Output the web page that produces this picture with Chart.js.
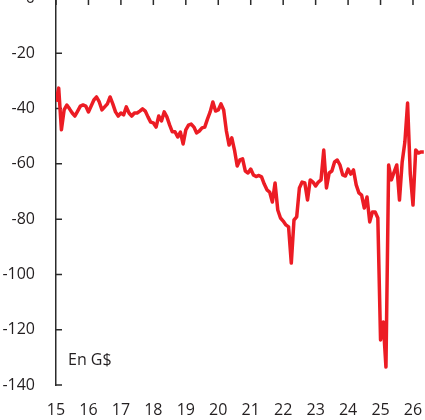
<!DOCTYPE html>
<html>
<head>
<meta charset="utf-8">
<script src="https://cdn.jsdelivr.net/npm/chart.js@4.4.1/dist/chart.umd.min.js"></script>
<style>
  html, body { margin: 0; padding: 0; background: #fff; overflow: hidden; }
  #wrap { position: absolute; left: 0; top: -2px; width: 425px; height: 422px; }
</style>
</head>
<body>
<div id="wrap"><canvas id="balance-chart" width="425" height="422"></canvas></div>
<script>
// monthly values, Jan 2015 onward (G$)
const startYear = 2015
const balance = [
    -37.5, -32.6, -47.7, -40.5, -38.7, -40.1, -41.6, -42.7, -40.9, -39.1, -38.7, -39.1,
    -41.2, -39.1, -36.9, -35.8, -37.6, -40.5, -39.4, -38.3, -35.8, -38.3, -41.2, -42.7,
    -41.6, -42.3, -39.4, -41.6, -42.7, -41.6, -41.6, -40.9, -40.1, -40.9, -43.0, -44.9,
    -45.2, -46.7, -42.7, -44.5, -41.2, -43.0, -45.9, -48.4, -48.4, -50.3, -48.5, -52.8,
    -47.7, -46.0, -45.6, -46.7, -48.8, -48.1, -47.0, -46.7, -43.8, -41.2, -37.6, -40.9,
    -40.5, -38.3, -40.5, -48.1, -53.2, -50.6, -55.0, -60.8, -58.6, -58.2, -62.6, -63.3,
    -61.9, -64.0, -64.6, -64.2, -64.7, -67.3, -69.4, -70.2, -73.8, -66.9, -76.7, -79.6,
    -80.7, -82.1, -82.8, -95.9, -80.3, -79.2, -68.7, -66.6, -66.9, -73.1, -65.8, -66.6,
    -68.0, -66.6, -65.8, -55.0, -68.7, -63.3, -62.6, -59.3, -58.6, -60.4, -64.0, -64.4,
    -61.9, -63.7, -62.2, -67.6, -70.5, -71.3, -76.0, -72.0, -81.0, -77.4, -77.4, -79.6,
    -123.7, -117.2, -133.5, -60.4, -65.8, -63.0, -60.4, -73.1, -59.3, -52.1, -38.0, -63.6,
    -74.9, -55.0, -56.1, -55.7, -55.7
]
const yearTicks = [2015, 2016, 2017, 2018, 2019, 2020, 2021, 2022, 2023, 2024, 2025, 2026]
const yearLabels = ["15", "16", "17", "18", "19", "20", "21", "22", "23", "24", "25", "26"]
const valueTicks = [0, -20, -40, -60, -80, -100, -120, -140]
const unitLabel = "En G$"

const points = balance.map((v, i) => ({ x: startYear + i / 12, y: v }))

const axisTicks = {
    id: "axisTicks",
    beforeDatasetsDraw(chart) {
        const ctx = chart.ctx
        const xs = chart.scales.x
        const ys = chart.scales.y
        const left = chart.chartArea.left
        const top = ys.getPixelForValue(0)
        ctx.save()
        ctx.strokeStyle = "#2b2b2b"
        ctx.lineWidth = 1.5
        ctx.beginPath()
        valueTicks.forEach(v => {
            const py = ys.getPixelForValue(v)
            ctx.moveTo(left, py)
            ctx.lineTo(left + 6, py)
        })
        yearTicks.forEach(v => {
            const px = xs.getPixelForValue(v)
            ctx.moveTo(px, top)
            ctx.lineTo(px, top + 7)
        })
        ctx.stroke()
        ctx.fillStyle = "#231f20"
        ctx.font = "16px 'Open Sans'"
        ctx.textBaseline = "alphabetic"
        ctx.fillText(unitLabel, left + 12, ys.getPixelForValue(-132.7))
        ctx.restore()
    }
}

let balanceChart = new Chart(document.getElementById("balance-chart").getContext("2d"), {
    type: "line",
    data: {
        datasets: [{
            data: points,
            borderColor: "#ec1c24",
            borderWidth: 3.5,
            pointRadius: 0,
            tension: 0,
            borderJoinStyle: "round",
        }],
    },
    options: {
        responsive: false,
        animation: false,
        layout: { padding: 0 },
        plugins: {
            legend: { display: false },
            tooltip: { enabled: false },
        },
        scales: {
            x: {
                type: "linear",
                min: 2015,
                max: 2026.37,
                grid: { display: false, drawTicks: false },
                border: { display: false },
                afterBuildTicks: (scale) => { scale.ticks = yearTicks.map(v => ({ value: v })) },
                afterFit: (scale) => {
                    scale.height = 35
                    scale.paddingLeft = 0
                    scale.paddingRight = 0
                },
                ticks: {
                    padding: 16,
                    color: "#231f20",
                    font: { family: "'Open Sans'", size: 16 },
                    maxRotation: 0,
                    autoSkip: false,
                    callback: (v, i) => yearLabels[i],
                },
            },
            y: {
                min: -140,
                max: 0,
                grid: { display: false, drawTicks: false },
                border: { display: true, color: "#2b2b2b", width: 1.5 },
                afterBuildTicks: (scale) => { scale.ticks = valueTicks.map(v => ({ value: v })) },
                afterFit: (scale) => {
                    scale.width = 56
                    scale.paddingTop = 0
                    scale.paddingBottom = 0
                },
                ticks: {
                    padding: 21,
                    color: "#231f20",
                    font: { family: "'Open Sans'", size: 16 },
                },
            },
        },
    },
    plugins: [axisTicks],
})
</script>
</body>
</html>
